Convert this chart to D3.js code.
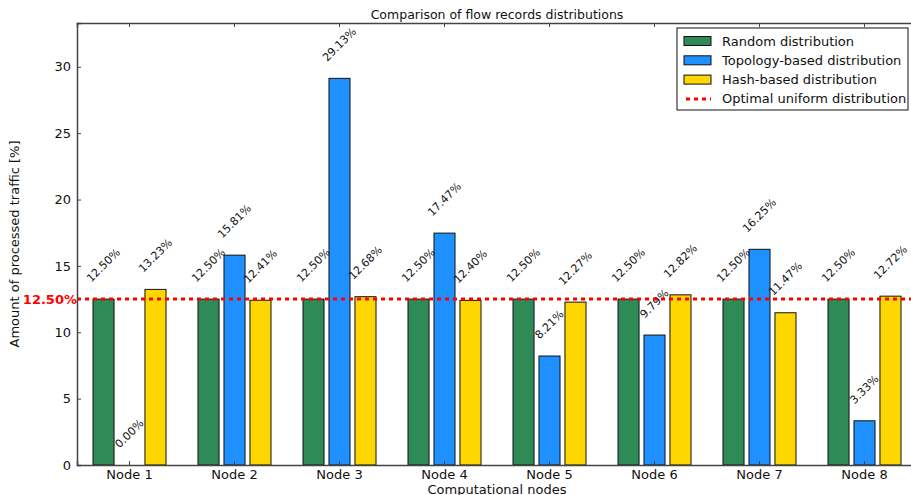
<!DOCTYPE html>
<html>
<head>
<meta charset="utf-8">
<script src="https://cdn.jsdelivr.net/npm/d3@7"></script>
<style>
  body { margin: 0; background: #fff; }
  text { font-family: "DejaVu Sans", sans-serif; }
</style>
</head>
<body>
<svg id="chart" width="911" height="495"></svg>
<script>
const NODES = ["Node 1", "Node 2", "Node 3", "Node 4", "Node 5", "Node 6", "Node 7", "Node 8"];
const SERIES = ["Random distribution", "Topology-based distribution", "Hash-based distribution"];
const RANDOM = [12.50, 12.50, 12.50, 12.50, 12.50, 12.50, 12.50, 12.50];
const TOPOLOGY = [0.00, 15.81, 29.13, 17.47, 8.21, 9.79, 16.25, 3.33];
const HASH = [13.23, 12.41, 12.68, 12.40, 12.27, 12.82, 11.47, 12.72];
const OPTIMAL = 12.50;
const Y_TICKS = [0, 5, 10, 15, 20, 25, 30];

const COLORS = ["#2e8b57", "#1e90ff", "#ffd700"];
const AXIS = "#444";

const width = 911, height = 495;
const margin = { top: 23, right: -6, bottom: 30, left: 77 };

const svg = d3.select("#chart");

const x = d3.scaleBand()
  .domain(NODES)
  .range([margin.left, width - margin.right])
  .padding(0);

const inner = d3.scaleBand()
  .domain(SERIES)
  .range([-36.5, 36.5])
  .paddingInner(0.19)
  .paddingOuter(0);

const y = d3.scaleLinear()
  .domain([0, 33.3])
  .range([height - margin.bottom, margin.top]);

const values = [RANDOM, TOPOLOGY, HASH];
const bars = [];
NODES.forEach((n, i) => {
  SERIES.forEach((s, j) => {
    bars.push({ node: n, series: s, j: j, value: values[j][i] });
  });
});

// bars
svg.append("g")
  .selectAll("rect")
  .data(bars)
  .join("rect")
  .attr("x", d => x(d.node) + x.bandwidth() / 2 + inner(d.series))
  .attr("y", d => y(d.value))
  .attr("width", inner.bandwidth())
  .attr("height", d => y(0) - y(d.value))
  .attr("fill", d => COLORS[d.j])
  .attr("stroke", "#111")
  .attr("stroke-width", 1);

// value labels, rotated 45 deg, bbox bottom-centre above bar
const fs = 11;
const labels = svg.append("g")
  .selectAll("text")
  .data(bars)
  .join("text")
  .attr("text-anchor", "middle")
  .attr("dominant-baseline", "central")
  .attr("font-size", fs)
  .attr("fill", "#111")
  .text(d => d.value.toFixed(2) + "%");

labels.each(function (d) {
  const w = this.getComputedTextLength();
  const bh = (w + fs) / Math.SQRT2;
  const cx = x(d.node) + x.bandwidth() / 2 + inner(d.series) + inner.bandwidth() / 2;
  const cy = y(d.value) - 15 - bh / 2;
  d3.select(this).attr("transform", `translate(${cx},${cy}) rotate(-45)`);
});

// optimal line
svg.append("line")
  .attr("x1", margin.left)
  .attr("x2", width)
  .attr("y1", y(OPTIMAL))
  .attr("y2", y(OPTIMAL))
  .attr("stroke", "red")
  .attr("stroke-width", 3)
  .attr("stroke-dasharray", "4,4");

svg.append("text")
  .attr("x", margin.left)
  .attr("y", y(OPTIMAL))
  .attr("dy", "0.35em")
  .attr("text-anchor", "end")
  .attr("font-size", 13)
  .attr("font-weight", "bold")
  .attr("fill", "red")
  .text(OPTIMAL.toFixed(2) + "%");

// axes
const yAxis = svg.append("g")
  .attr("transform", `translate(${margin.left},0)`)
  .call(d3.axisLeft(y).tickValues(Y_TICKS).tickSize(-4).tickPadding(6).tickFormat(d3.format("d")));
yAxis.selectAll("text").attr("font-size", 13).attr("fill", "#111").attr("font-family", "DejaVu Sans");

const xAxis = svg.append("g")
  .attr("transform", `translate(0,${y(0)})`)
  .call(d3.axisBottom(x).tickSize(-4).tickPadding(5));
xAxis.selectAll("text").attr("font-size", 13).attr("fill", "#111").attr("font-family", "DejaVu Sans");

const topAxis = svg.append("g")
  .attr("transform", `translate(0,${margin.top})`)
  .call(d3.axisTop(x).tickSize(-4).tickFormat(""));

[yAxis, xAxis, topAxis].forEach(g => {
  g.select(".domain").attr("stroke", AXIS).attr("stroke-width", 1.5);
  g.selectAll(".tick line").attr("stroke", AXIS);
});

// titles
svg.append("text")
  .attr("x", (margin.left + width - margin.right) / 2)
  .attr("y", 19)
  .attr("text-anchor", "middle")
  .attr("font-size", 12.5)
  .attr("fill", "#111")
  .text("Comparison of flow records distributions");

svg.append("text")
  .attr("x", (margin.left + width - margin.right) / 2)
  .attr("y", 494)
  .attr("text-anchor", "middle")
  .attr("font-size", 13)
  .attr("fill", "#111")
  .text("Computational nodes");

svg.append("text")
  .attr("transform", `translate(19,${(y(0) + margin.top) / 2}) rotate(-90)`)
  .attr("text-anchor", "middle")
  .attr("font-size", 13)
  .attr("fill", "#111")
  .text("Amount of processed traffic [%]");

// legend
const legend = svg.append("g").attr("transform", "translate(677,28)");
legend.append("rect")
  .attr("width", 231)
  .attr("height", 82)
  .attr("fill", "#fff")
  .attr("stroke", "#111");

const items = SERIES.map((s, j) => ({ label: s, j: j })).concat([{ label: "Optimal uniform distribution", j: -1 }]);
const li = legend.selectAll("g.item")
  .data(items)
  .join("g")
  .attr("transform", (d, i) => `translate(0,${13 + i * 19.3})`);

li.filter(d => d.j >= 0).append("rect")
  .attr("x", 7)
  .attr("y", -4.5)
  .attr("width", 27)
  .attr("height", 9)
  .attr("fill", d => COLORS[d.j])
  .attr("stroke", "#111");

li.filter(d => d.j < 0).append("line")
  .attr("x1", 9)
  .attr("x2", 34)
  .attr("stroke", "red")
  .attr("stroke-width", 3)
  .attr("stroke-dasharray", "4,4");

li.append("text")
  .attr("x", 45)
  .attr("dy", "0.35em")
  .attr("font-size", 13)
  .attr("fill", "#111")
  .text(d => d.label);
</script>
</body>
</html>
